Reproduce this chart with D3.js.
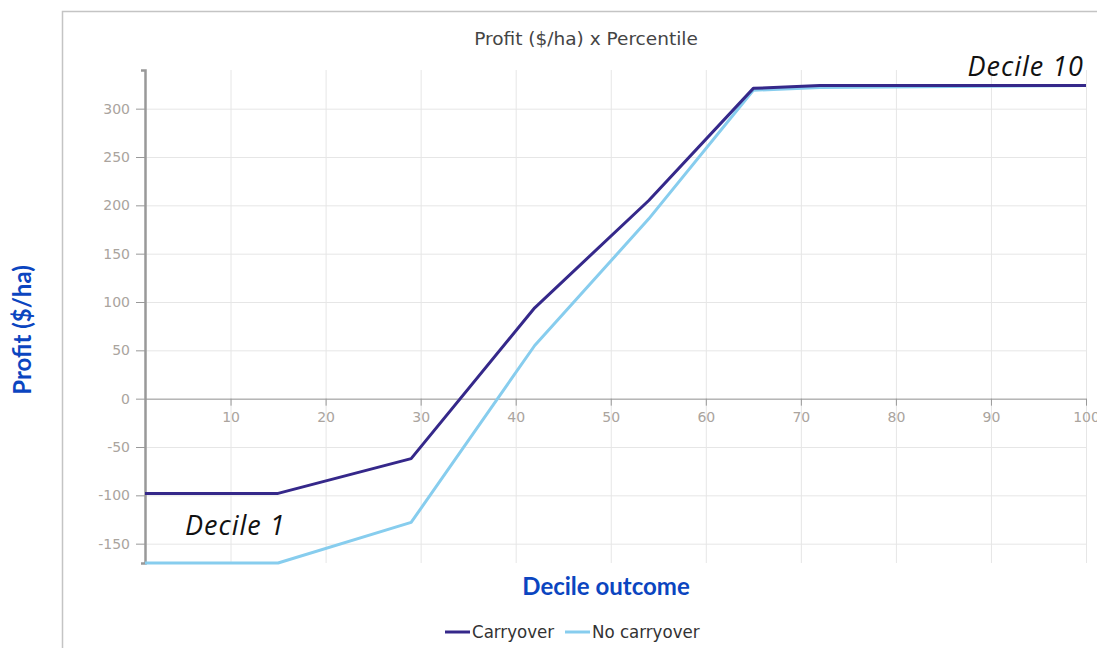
<!DOCTYPE html>
<html>
<head>
<meta charset="utf-8">
<script src="https://cdn.jsdelivr.net/npm/d3@7"></script>
<style>
  body { margin: 0; background: #fff; }
  svg { display: block; }
  .grid line { stroke: #e6e6e6; stroke-width: 1; }
  .grid .domain { display: none; }
  .axis text { fill: #aaa49e; font-family: "DejaVu Sans", sans-serif; font-size: 14px; }
  .axis line, .axis path { stroke: #999; }
</style>
</head>
<body>
<script>
// percentile positions and profits ($/ha)
var percentile = [1, 15, 29, 42, 54, 65, 72, 100];
var carryover = [-98, -98, -62, 94, 205, 321, 324, 324];
var noCarryover = [-170, -170, -128, 55, 186, 319, 322, 324];
var seriesNames = ["Carryover", "No carryover"];
var seriesColors = ["#35288a", "#87cdee"];
var xTicks = [10, 20, 30, 40, 50, 60, 70, 80, 90, 100];
var yTicks = [-150, -100, -50, 0, 50, 100, 150, 200, 250, 300];

var W = 1097, H = 648;
var margin = {top: 70, right: 11, bottom: 85, left: 145},
    width = W - margin.left - margin.right,
    height = H - margin.top - margin.bottom;

var svg = d3.select("body").append("svg")
    .attr("width", W)
    .attr("height", H);

// outer frame
svg.append("rect")
    .attr("x", 62.5).attr("y", 11.5)
    .attr("width", 1100).attr("height", 700)
    .attr("fill", "none")
    .attr("stroke", "#c4c4c4")
    .attr("stroke-width", 1.5);

var x = d3.scaleLinear().domain([1, 100]).range([0, width]);
var y = d3.scaleLinear().domain([-170, 340]).range([height, 0]);

var g = svg.append("g")
    .attr("transform", "translate(" + margin.left + "," + margin.top + ")");

// grid
g.append("g").attr("class", "grid")
    .attr("transform", "translate(0," + height + ")")
    .call(d3.axisBottom(x).tickValues(xTicks).tickSize(-height).tickFormat(""));
g.append("g").attr("class", "grid")
    .call(d3.axisLeft(y).tickValues(yTicks).tickSize(-width).tickFormat(""));

// x axis on zero line
var xAxis = g.append("g").attr("class", "axis")
    .attr("transform", "translate(0," + y(0) + ")")
    .call(d3.axisBottom(x).tickValues(xTicks).tickSize(7).tickSizeOuter(0).tickPadding(6)
      .tickFormat(function(d) { return String(d); }));

// y axis
var yAxis = g.append("g").attr("class", "axis")
    .call(d3.axisLeft(y).tickValues(yTicks).tickSize(9).tickSizeOuter(4).tickPadding(6)
      .tickFormat(function(d) { return String(d); }));
yAxis.select(".domain").attr("stroke-width", 2.5);

// lines
var line = d3.line()
    .x(function(d) { return x(d[0]); })
    .y(function(d) { return y(d[1]); });

[noCarryover, carryover].forEach(function(vals, i) {
  var pts = percentile.map(function(p, j) { return [p, vals[j]]; });
  g.append("path")
      .datum(pts)
      .attr("d", line)
      .attr("fill", "none")
      .attr("stroke", i === 0 ? seriesColors[1] : seriesColors[0])
      .attr("stroke-width", 3)
      .attr("stroke-linejoin", "round");
});

// title
svg.append("text")
    .attr("x", 586).attr("y", 45)
    .attr("text-anchor", "middle")
    .style("font-family", "'DejaVu Sans', sans-serif")
    .style("font-size", "18.5px")
    .style("fill", "#444")
    .text("Profit ($/ha) x Percentile");

// axis titles
svg.append("text")
    .attr("transform", "translate(31,330) rotate(-90)")
    .attr("text-anchor", "middle")
    .style("font-family", "Lato, sans-serif")
    .style("font-weight", "bold")
    .style("font-size", "24px")
    .style("fill", "#0b45c0")
    .text("Profit ($/ha)");

svg.append("text")
    .attr("x", 606).attr("y", 595)
    .attr("text-anchor", "middle")
    .style("font-family", "Lato, sans-serif")
    .style("font-weight", "bold")
    .style("font-size", "24px")
    .style("fill", "#0b45c0")
    .text("Decile outcome");

// annotations
svg.append("text")
    .attr("x", 1084).attr("y", 76)
    .attr("text-anchor", "end")
    .style("font-family", "'Open Sans', sans-serif")
    .style("font-style", "italic")
    .style("font-size", "27px")
    .style("letter-spacing", "1px")
    .style("fill", "#111")
    .text("Decile 10");

svg.append("text")
    .attr("x", 185).attr("y", 535)
    .style("font-family", "'Open Sans', sans-serif")
    .style("font-style", "italic")
    .style("font-size", "27px")
    .style("letter-spacing", "1px")
    .style("fill", "#111")
    .text("Decile 1");

// legend
var legend = svg.append("g").attr("transform", "translate(445,632)");
var legX = [0, 120];
seriesNames.forEach(function(name, i) {
  var item = legend.append("g").attr("transform", "translate(" + legX[i] + ",0)");
  item.append("line")
      .attr("x1", 0).attr("x2", 25)
      .attr("stroke", seriesColors[i])
      .attr("stroke-width", 3);
  item.append("text")
      .attr("x", 27).attr("y", 6)
      .style("font-family", "'DejaVu Sans Condensed', 'DejaVu Sans', sans-serif")
      .style("font-size", "18.5px")
      .style("fill", "#333")
      .text(name);
});
</script>
</body>
</html>
